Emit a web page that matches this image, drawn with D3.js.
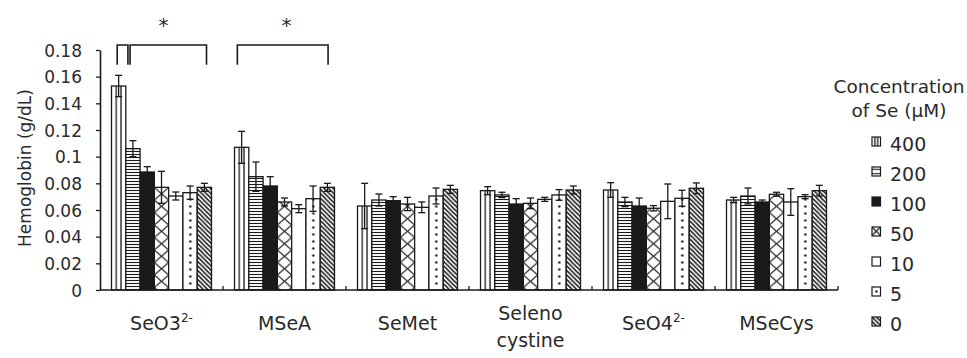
<!DOCTYPE html>
<html>
<head>
<meta charset="utf-8">
<script src="https://cdn.jsdelivr.net/npm/d3@7"></script>
<style>
  body { margin: 0; background: #fff; }
  svg { display: block; }
  text { font-family: "DejaVu Sans", sans-serif; fill: #2a2a2a; }
</style>
</head>
<body>
<svg id="chart" width="967" height="358"></svg>
<script>
// Selenium compounds ("^" marks a superscript, "\n" a line break)
const categories = ["SeO3^2-", "MSeA", "SeMet", "Seleno\ncystine", "SeO4^2-", "MSeCys"];
// Concentrations of Se (µM), one bar per concentration in each group
const concentrations = ["400", "200", "100", "50", "10", "5", "0"];

// Mean hemoglobin (g/dL) per compound, for each concentration
const hb400 = [0.153, 0.107, 0.063, 0.0745, 0.075, 0.0675];
const hb200 = [0.106, 0.085, 0.0675, 0.0713, 0.066, 0.0705];
const hb100 = [0.0885, 0.078, 0.067, 0.0645, 0.063, 0.066];
const hb50  = [0.077, 0.066, 0.0645, 0.065, 0.0613, 0.0718];
const hb10  = [0.0705, 0.061, 0.062, 0.068, 0.0665, 0.066];
const hb5   = [0.073, 0.0685, 0.0705, 0.0713, 0.0688, 0.070];
const hb0   = [0.077, 0.077, 0.0755, 0.075, 0.0763, 0.0745];

// Error (±) per compound, for each concentration
const err400 = [0.008, 0.012, 0.017, 0.003, 0.0055, 0.002];
const err200 = [0.006, 0.011, 0.0045, 0.002, 0.0035, 0.006];
const err100 = [0.004, 0.007, 0.003, 0.004, 0.006, 0.0015];
const err50  = [0.012, 0.003, 0.005, 0.004, 0.002, 0.0015];
const err10  = [0.003, 0.003, 0.004, 0.0015, 0.013, 0.010];
const err5   = [0.005, 0.0095, 0.006, 0.004, 0.006, 0.0015];
const err0   = [0.003, 0.003, 0.003, 0.003, 0.004, 0.004];

const yTickValues = [0, 0.02, 0.04, 0.06, 0.08, 0.1, 0.12, 0.14, 0.16, 0.18];
const yTitle = "Hemoglobin (g/dL)";
const legendTitle = ["Concentration", "of Se (\u00b5M)"];

// Significance brackets: compound, bar-position span within the group
const sigBrackets = [
  { cat: categories[0], from: 0.4, to: 1.15 },
  { cat: categories[0], from: 1.3, to: 6.65 },
  { cat: categories[1], from: 0.2, to: 6.55 }
];
const sigStars = [categories[0], categories[1]];

const meanSeries = [hb400, hb200, hb100, hb50, hb10, hb5, hb0];
const errSeries = [err400, err200, err100, err50, err10, err5, err0];
const rows = [];
categories.forEach((c, ci) => concentrations.forEach((s, si) => {
  rows.push({ cat: c, conc: s, si, value: meanSeries[si][ci], err: errSeries[si][ci] });
}));

const svg = d3.select("#chart");
const plotLeft = 100, plotRight = 838, plotTop = 50, plotBottom = 290;

const y = d3.scaleLinear().domain([0, 0.18]).range([plotBottom, plotTop]);
const x = d3.scaleBand().domain(categories).range([plotLeft, plotRight]).padding(0);
const groupGap = 23;
const xs = d3.scaleBand().domain(concentrations)
  .range([groupGap / 2, x.step() - groupGap / 2]).padding(0);
const bw = xs.bandwidth();

// ---- fill patterns ----
const defs = svg.append("defs");
function addPatterns(suffix, w) {
  const ink = "#1a1a1a";
  // 400: vertical stripes
  let p = defs.append("pattern").attr("id", "p400" + suffix)
    .attr("patternUnits", "userSpaceOnUse").attr("width", w).attr("height", 10);
  p.append("rect").attr("width", w).attr("height", 10).attr("fill", "#fff");
  [w / 3, 2 * w / 3].forEach(px => p.append("line")
    .attr("x1", px).attr("x2", px).attr("y1", 0).attr("y2", 10)
    .attr("stroke", ink).attr("stroke-width", 1.3));
  // 200: horizontal stripes
  const hs = suffix === "L" ? 4.5 : 3;
  p = defs.append("pattern").attr("id", "p200" + suffix)
    .attr("patternUnits", "userSpaceOnUse").attr("width", w).attr("height", hs);
  p.append("rect").attr("width", w).attr("height", hs).attr("fill", "#fff");
  p.append("line").attr("x1", 0).attr("x2", w).attr("y1", hs / 2).attr("y2", hs / 2)
    .attr("stroke", ink).attr("stroke-width", 1.1);
  // 100: solid
  p = defs.append("pattern").attr("id", "p100" + suffix)
    .attr("patternUnits", "userSpaceOnUse").attr("width", w).attr("height", 10);
  p.append("rect").attr("width", w).attr("height", 10).attr("fill", ink);
  // 50: diamond cross-hatch
  const ch = suffix === "L" ? w : 12.5;
  p = defs.append("pattern").attr("id", "p50" + suffix)
    .attr("patternUnits", "userSpaceOnUse").attr("width", w).attr("height", ch);
  p.append("rect").attr("width", w).attr("height", ch).attr("fill", "#fff");
  p.append("line").attr("x1", 0).attr("y1", 0).attr("x2", w).attr("y2", ch)
    .attr("stroke", ink).attr("stroke-width", 1.2);
  p.append("line").attr("x1", w).attr("y1", 0).attr("x2", 0).attr("y2", ch)
    .attr("stroke", ink).attr("stroke-width", 1.2);
  // 10: plain white
  p = defs.append("pattern").attr("id", "p10" + suffix)
    .attr("patternUnits", "userSpaceOnUse").attr("width", w).attr("height", 10);
  p.append("rect").attr("width", w).attr("height", 10).attr("fill", "#fff");
  // 5: dotted
  const dh = suffix === "L" ? 9 : 7;
  p = defs.append("pattern").attr("id", "p5" + suffix)
    .attr("patternUnits", "userSpaceOnUse").attr("width", w).attr("height", dh);
  p.append("rect").attr("width", w).attr("height", dh).attr("fill", "#fff");
  p.append("circle").attr("cx", w * 0.52).attr("cy", dh / 2).attr("r", 1.2).attr("fill", ink);
  // 0: diagonal stripes (down-right)
  const ds = 4.5;
  p = defs.append("pattern").attr("id", "p0" + suffix)
    .attr("patternUnits", "userSpaceOnUse").attr("width", ds).attr("height", ds);
  p.append("rect").attr("width", ds).attr("height", ds).attr("fill", "#fff");
  [[-1, -1, ds + 1, ds + 1], [-1, ds - 1, 1, ds + 1], [ds - 1, -1, ds + 1, 1]].forEach(l =>
    p.append("line").attr("x1", l[0]).attr("y1", l[1]).attr("x2", l[2]).attr("y2", l[3])
      .attr("stroke", ink).attr("stroke-width", 1.5));
}
addPatterns("B", bw);
addPatterns("L", 8.5);

// ---- y axis ----
const yAxis = svg.append("g").attr("transform", `translate(${plotLeft},0)`)
  .call(d3.axisLeft(y).tickValues(yTickValues).tickSize(4).tickSizeOuter(0)
    .tickFormat(d => d === 0 ? "0" : String(+d.toFixed(2))));
yAxis.select(".domain").attr("stroke", "#1a1a1a").attr("stroke-width", 1.6);
yAxis.selectAll(".tick line").attr("stroke", "#1a1a1a").attr("stroke-width", 1.3);
yAxis.selectAll(".tick text").attr("x", -18).attr("dy", "0.36em")
  .style("font-size", "17px").style("font-family", "DejaVu Sans, sans-serif")
  .attr("fill", "#2a2a2a");

svg.append("text")
  .attr("transform", `translate(31,${(plotTop + plotBottom) / 2 - 2}) rotate(-90)`)
  .attr("text-anchor", "middle").style("font-size", "17px")
  .text(yTitle);

// ---- bars ----
const groups = svg.append("g").selectAll("g").data(categories).join("g")
  .attr("transform", d => `translate(${x(d)},0)`);

const bars = groups.selectAll("g.bar")
  .data(c => rows.filter(r => r.cat === c)).join("g").attr("class", "bar")
  .attr("transform", d => `translate(${xs(d.conc)},0)`);

bars.append("rect")
  .attr("x", 0).attr("y", d => y(d.value))
  .attr("width", bw).attr("height", d => y(0) - y(d.value))
  .attr("fill", d => `url(#p${d.conc}B)`)
  .attr("stroke", "#1a1a1a").attr("stroke-width", 1.3);

// error bars
const cap = 3.5;
bars.append("line")
  .attr("x1", bw / 2).attr("x2", bw / 2)
  .attr("y1", d => y(d.value - d.err)).attr("y2", d => y(d.value + d.err))
  .attr("stroke", "#1a1a1a").attr("stroke-width", 1.3);
bars.append("line")
  .attr("x1", bw / 2 - cap).attr("x2", bw / 2 + cap)
  .attr("y1", d => y(d.value + d.err)).attr("y2", d => y(d.value + d.err))
  .attr("stroke", "#1a1a1a").attr("stroke-width", 1.3);
bars.append("line")
  .attr("x1", bw / 2 - cap).attr("x2", bw / 2 + cap)
  .attr("y1", d => y(d.value - d.err)).attr("y2", d => y(d.value - d.err))
  .attr("stroke", "#1a1a1a").attr("stroke-width", 1.3);

// ---- x axis baseline, category boundary ticks and labels ----
svg.append("line").attr("x1", plotLeft).attr("x2", plotRight)
  .attr("y1", y(0)).attr("y2", y(0)).attr("stroke", "#1a1a1a").attr("stroke-width", 1.6);
const boundaries = categories.map(c => x(c) + x.step());
svg.append("g").selectAll("line").data(boundaries).join("line")
  .attr("x1", d => d).attr("x2", d => d).attr("y1", y(0)).attr("y2", y(0) - 4)
  .attr("stroke", "#1a1a1a").attr("stroke-width", 1.3);

const xLabels = svg.append("g").selectAll("text").data(categories).join("text")
  .attr("text-anchor", "middle").style("font-size", "19px")
  .attr("x", d => x(d) + x.step() / 2)
  .attr("y", d => d.includes("\n") ? 320 : 330);
xLabels.each(function (d) {
  const t = d3.select(this);
  d.split("\n").forEach((line, li) => {
    const parts = line.split("^");
    t.append("tspan").attr("x", x(d) + x.step() / 2).attr("dy", li ? 27 : 0).text(parts[0]);
    if (parts[1]) {
      t.append("tspan").attr("dy", -8).style("font-size", "12px").text(parts[1]);
    }
  });
});

// ---- significance brackets ----
const sig = svg.append("g").attr("stroke", "#1a1a1a").attr("stroke-width", 1.6).attr("fill", "none");
sigBrackets.forEach(b => {
  const x1 = x(b.cat) + xs.range()[0] + b.from * xs.step();
  const x2 = x(b.cat) + xs.range()[0] + b.to * xs.step();
  sig.append("path")
    .attr("d", `M${x1},${y(0.169)}V${y(0.1837)}H${x2}V${y(0.169)}`);
});
svg.append("g").selectAll("text").data(sigStars).join("text")
  .attr("x", d => x(d) + x.step() / 2 + 2).attr("y", 32)
  .attr("text-anchor", "middle").style("font-size", "20px").text("*");

// ---- legend ----
const lg = svg.append("g");
lg.selectAll("text.title").data(legendTitle).join("text").attr("class", "title")
  .attr("x", 899).attr("y", (d, i) => 93 + i * 24)
  .attr("text-anchor", "middle").style("font-size", "18.5px").text(d => d);
const items = lg.selectAll("g.item").data(concentrations).join("g").attr("class", "item")
  .attr("transform", (d, i) => `translate(872,${151 + i * 30})`);
items.append("g").attr("transform", "translate(0,-14)")
  .append("rect").attr("x", 0).attr("y", 0).attr("width", 8.5).attr("height", 9)
  .attr("fill", d => `url(#p${d}L)`).attr("stroke", "#1a1a1a").attr("stroke-width", 1.2);
items.append("text").attr("x", 18).attr("y", 0).style("font-size", "19px").text(d => d);
</script>
</body>
</html>
